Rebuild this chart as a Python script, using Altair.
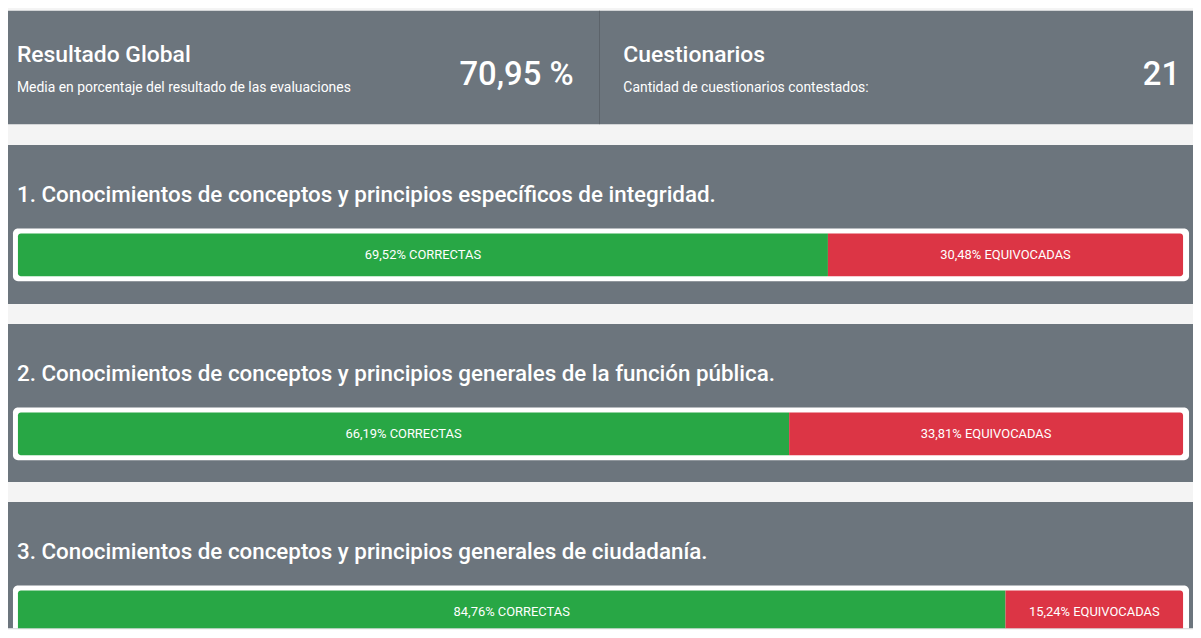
import altair as alt
import pandas as pd

# ---------------- data ----------------
titulos = [
    "1. Conocimientos de conceptos y principios específicos de integridad.",
    "2. Conocimientos de conceptos y principios generales de la función pública.",
    "3. Conocimientos de conceptos y principios generales de ciudadanía.",
]
correctas = [69.52, 66.19, 84.76]
equivocadas = [30.48, 33.81, 15.24]
resultado_global = 70.95
cuestionarios = 21

header_titles = ["Resultado Global", "Cuestionarios"]
header_subtitles = [
    "Media en porcentaje del resultado de las evaluaciones",
    "Cantidad de cuestionarios contestados:",
]

# ---------------- style ----------------
FONT = "Roboto"
W = 1192
CARD = "#6c757d"
GREEN = "#28a745"
RED = "#dc3545"


def fmt(v):
    return f"{v:.2f}".replace(".", ",")


# ---------------- header ----------------
header_df = pd.DataFrame({
    "t1": [header_titles[0]],
    "s1": [header_subtitles[0]],
    "v1": [f"{fmt(resultado_global)} %"],
    "t2": [header_titles[1]],
    "s2": [header_subtitles[1]],
    "v2": [str(cuestionarios)],
})
hdr = alt.Chart(header_df)


def htext(field, x, y, size, weight=400, align="left"):
    return hdr.mark_text(
        font=FONT, fontSize=size, fontWeight=weight, align=align,
        baseline="alphabetic", color="white"
    ).encode(x=alt.value(x), y=alt.value(y), text=f"{field}:N")


divider = hdr.mark_rule(color="#5c636a", strokeWidth=1).encode(
    x=alt.value(595), y=alt.value(0), y2=alt.value(114)
)

header = alt.layer(
    divider,
    htext("t1", 9, 51, 23, 500),
    htext("s1", 9, 82, 14),
    htext("v1", 569, 75, 33, 500, "right"),
    htext("t2", 619, 51, 23, 500),
    htext("s2", 619, 82, 14),
    htext("v2", 1179, 75, 33, 500, "right"),
).properties(width=W, height=114)


# ---------------- cards ----------------
def card(i, h, clip=False):
    df = pd.DataFrame({
        "titulo": [titulos[i]],
        "correctas": [correctas[i]],
        "equivocadas": [equivocadas[i]],
        "lab_c": [f"{fmt(correctas[i])}% CORRECTAS"],
        "lab_e": [f"{fmt(equivocadas[i])}% EQUIVOCADAS"],
    })
    base = alt.Chart(df).transform_calculate(
        inicio="0",
        fin="datum.correctas + datum.equivocadas",
        mid_c="datum.correctas / 2",
        mid_e="datum.correctas + datum.equivocadas / 2",
    )
    xs = alt.Scale(domain=[0, 100], range=[10, 1182])

    title = base.mark_text(
        font=FONT, fontSize=22.5, fontWeight=500, align="left",
        baseline="alphabetic", color="white", clip=clip
    ).encode(x=alt.value(9), y=alt.value(57), text="titulo:N")

    outer = base.mark_rect(color="white", cornerRadius=5, clip=clip).encode(
        x=alt.value(5), x2=alt.value(1188), y=alt.value(84), y2=alt.value(137)
    )
    green = base.mark_rect(
        color=GREEN, cornerRadiusTopLeft=3, cornerRadiusBottomLeft=3, clip=clip
    ).encode(
        x=alt.X("inicio:Q", scale=xs, axis=None), x2="correctas:Q",
        y=alt.value(89), y2=alt.value(132)
    )
    red = base.mark_rect(
        color=RED, cornerRadiusTopRight=3, cornerRadiusBottomRight=3, clip=clip
    ).encode(
        x=alt.X("correctas:Q", scale=xs, axis=None), x2="fin:Q",
        y=alt.value(89), y2=alt.value(132)
    )
    lab_c = base.mark_text(
        font=FONT, fontSize=13, color="white", align="center", baseline="middle", clip=clip
    ).encode(x=alt.X("mid_c:Q", scale=xs, axis=None), y=alt.value(110.5), text="lab_c:N")
    lab_e = base.mark_text(
        font=FONT, fontSize=13, color="white", align="center", baseline="middle", clip=clip
    ).encode(x=alt.X("mid_e:Q", scale=xs, axis=None), y=alt.value(110.5), text="lab_e:N")

    return alt.layer(outer, green, red, lab_c, lab_e, title).properties(width=W, height=h)


chart = alt.vconcat(
    header,
    card(0, 160),
    card(1, 159),
    card(2, 127, clip=True),
    spacing=20,
).properties(
    padding=0, background="#f4f4f4"
).configure_view(
    fill=CARD, stroke=None
).configure_concat(spacing=20)

chart.save("out.html", embed_options={"renderer": "svg", "actions": False})
